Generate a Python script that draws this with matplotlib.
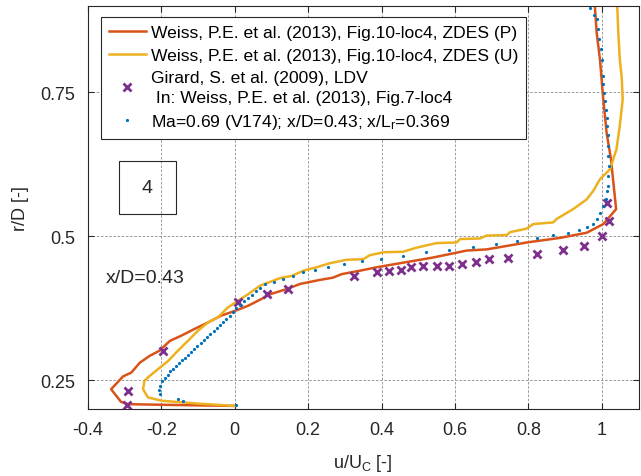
import numpy as np
import matplotlib
matplotlib.use("Agg")
import matplotlib.pyplot as plt
from matplotlib.patches import Rectangle

plt.rcParams['font.family'] = ['Liberation Sans', 'DejaVu Sans']
plt.rcParams['mathtext.fontset'] = 'custom'
plt.rcParams['mathtext.rm'] = 'Liberation Sans'
plt.rcParams['mathtext.it'] = 'Liberation Sans:italic'

# ZDES (P) - Weiss et al. 2013, Fig.10 loc4
zdes_p_u = [0.0, -0.10, -0.20, -0.29, -0.31, -0.337, -0.305, -0.282, -0.259, -0.232, -0.205,
            -0.177, -0.146, -0.109, -0.073, -0.037, 0.0, 0.036, 0.073, 0.096, 0.141, 0.178,
            0.232, 0.268, 0.291, 0.341, 0.387, 0.432, 0.505, 0.541, 0.632, 0.686, 0.741,
            0.795, 0.886, 0.959, 1.004, 1.039, 1.025, 1.013, 1.004, 0.995, 0.986, 0.981]
zdes_p_r = [0.205, 0.206, 0.207, 0.208, 0.212, 0.234, 0.256, 0.263, 0.280, 0.292, 0.301,
            0.318, 0.327, 0.339, 0.350, 0.362, 0.370, 0.379, 0.391, 0.399, 0.408, 0.417,
            0.424, 0.428, 0.434, 0.440, 0.446, 0.451, 0.459, 0.463, 0.475, 0.477, 0.483,
            0.489, 0.497, 0.506, 0.521, 0.547, 0.634, 0.680, 0.738, 0.807, 0.854, 0.900]

# ZDES (U)
zdes_u_u = [0.0, -0.10, -0.20, -0.237, -0.250, -0.246, -0.232, -0.209, -0.182, -0.155, -0.128,
            -0.100, -0.073, -0.046, -0.019, 0.009, 0.036, 0.069, 0.123, 0.155, 0.187, 0.223,
            0.259, 0.305, 0.350, 0.368, 0.405, 0.459, 0.495, 0.550, 0.604, 0.614, 0.668,
            0.686, 0.741, 0.750, 0.795, 0.813, 0.868, 0.877, 0.922, 0.959, 0.977, 0.995,
            1.022, 1.040, 1.049, 1.057, 1.054, 1.049, 1.045, 1.042]
zdes_u_r = [0.205, 0.209, 0.214, 0.220, 0.234, 0.249, 0.257, 0.269, 0.283, 0.301, 0.318,
            0.336, 0.350, 0.359, 0.376, 0.388, 0.399, 0.414, 0.427, 0.431, 0.440, 0.446,
            0.453, 0.459, 0.460, 0.467, 0.472, 0.473, 0.480, 0.488, 0.489, 0.495, 0.496,
            0.501, 0.502, 0.507, 0.513, 0.521, 0.524, 0.530, 0.547, 0.564, 0.579, 0.599,
            0.616, 0.651, 0.692, 0.738, 0.778, 0.807, 0.854, 0.900]

# Girard et al. 2009, LDV
ldv_u = [-0.293, -0.291, -0.195, 0.009, 0.089, 0.146, 0.325, 0.388, 0.421, 0.452, 0.479,
         0.512, 0.550, 0.585, 0.618, 0.656, 0.693, 0.744, 0.824, 0.895, 0.951, 1.001,
         1.020, 1.013]
ldv_r = [0.207, 0.231, 0.300, 0.385, 0.399, 0.409, 0.431, 0.437, 0.439, 0.441, 0.447,
         0.448, 0.448, 0.449, 0.451, 0.455, 0.460, 0.462, 0.469, 0.476, 0.483, 0.501,
         0.527, 0.557]

# Ma=0.69 (V174)
v174_u = [0.002, -0.140, -0.156, -0.205, -0.206, -0.203, -0.198, -0.190, -0.183, -0.176,
          -0.168, -0.160, -0.152, -0.144, -0.136, -0.127, -0.119, -0.110, -0.102, -0.093,
          -0.085, -0.076, -0.067, -0.058, -0.049, -0.040, -0.031, -0.023, -0.014, -0.005,
          0.004, 0.014, 0.024, 0.035, 0.046, 0.057, 0.069, 0.082, 0.107, 0.132, 0.158,
          0.187, 0.219, 0.255, 0.298, 0.346, 0.398, 0.458, 0.521, 0.584, 0.650, 0.712,
          0.770, 0.824, 0.868, 0.907, 0.938, 0.961, 0.975, 0.986, 0.995, 1.004, 1.011,
          1.015, 1.017, 1.018, 1.019, 1.018, 1.017, 1.016, 1.015, 1.013, 1.011, 1.009,
          1.006, 1.004, 1.002, 1.000, 0.997, 0.993, 0.990, 0.986, 0.979, 0.969]
v174_r = [0.207, 0.213, 0.217, 0.226, 0.233, 0.240, 0.248, 0.253, 0.259, 0.265,
          0.270, 0.275, 0.280, 0.285, 0.289, 0.294, 0.299, 0.304, 0.309, 0.314,
          0.319, 0.325, 0.330, 0.335, 0.340, 0.346, 0.351, 0.356, 0.362, 0.368,
          0.375, 0.381, 0.387, 0.392, 0.398, 0.404, 0.410, 0.417, 0.421, 0.425, 0.431,
          0.437, 0.442, 0.446, 0.451, 0.456, 0.461, 0.466, 0.472, 0.476, 0.481, 0.487,
          0.491, 0.496, 0.502, 0.506, 0.511, 0.516, 0.521, 0.530, 0.540, 0.552, 0.564,
          0.579, 0.587, 0.605, 0.622, 0.640, 0.657, 0.675, 0.692, 0.706, 0.720, 0.735,
          0.749, 0.764, 0.778, 0.807, 0.825, 0.842, 0.860, 0.877, 0.885, 0.897]

xticks = [-0.4, -0.2, 0, 0.2, 0.4, 0.6, 0.8, 1]
xticklabels = ['-0.4', '-0.2', '0', '0.2', '0.4', '0.6', '0.8', '1']
yticks = [0.25, 0.5, 0.75]
yticklabels = ['0.25', '0.5', '0.75']

fig = plt.figure(figsize=(6.41, 4.77), dpi=100)
ax = fig.add_axes([0.1373, 0.1409, 0.8588, 0.8444])

ax.plot(zdes_p_u, zdes_p_r, color='#D95319', lw=1.8,
        label='Weiss, P.E. et al. (2013), Fig.10-loc4, ZDES (P)')
ax.plot(zdes_u_u, zdes_u_r, color='#EDB120', lw=1.8,
        label='Weiss, P.E. et al. (2013), Fig.10-loc4, ZDES (U)')
ax.plot(ldv_u, ldv_r, ls='none', marker='x', color='#7E2F8E', ms=6, mew=2,
        label='Girard, S. et al. (2009), LDV\n In: Weiss, P.E. et al. (2013), Fig.7-loc4')
ax.plot(v174_u, v174_r, ls='none', marker='o', color='#0072BD', ms=2.3, mew=0,
        label='Ma=0.69 (V174); x/D=0.43; x/L$_\\mathrm{r}$=0.369')

ax.set_xlim(-0.4, 1.1)
ax.set_ylim(0.2, 0.9)
ax.set_xticks(xticks)
ax.set_xticklabels(xticklabels)
ax.set_yticks(yticks)
ax.set_yticklabels(yticklabels)
ax.tick_params(direction='in', top=True, right=True, length=4, labelsize=13,
               color='#262626', labelcolor='#262626', pad=9)
ax.grid(True, ls=(0, (3, 2)), color='#8a8a8a', lw=0.6)
for s in ax.spines.values():
    s.set_color('#262626')
    s.set_linewidth(0.8)

ax.set_xlabel('u/U$_\\mathrm{C}$ [-]', fontsize=13, color='#262626', labelpad=10)
ax.set_ylabel('r/D [-]', fontsize=13, color='#262626', labelpad=8)

leg = ax.legend(loc='upper left', bbox_to_anchor=(0.0236, 0.9727), borderaxespad=0,
                fontsize=12.6, fancybox=False, framealpha=1, edgecolor='#262626',
                handlelength=2.1, handletextpad=0.3, labelspacing=0.43,
                borderpad=0.45)
leg.get_frame().set_linewidth(0.8)
leg.get_texts()[2].set_linespacing(1.35)

ax.add_patch(Rectangle((0.0563, 0.4836), 0.1035, 0.1316, transform=ax.transAxes,
                       fill=False, edgecolor='#262626', lw=0.8, zorder=5))
ax.text(0.108, 0.549, '4', transform=ax.transAxes, ha='center', va='center',
        fontsize=14, color='#262626')
ax.text(0.0327, 0.327, 'x/D=0.43', transform=ax.transAxes, ha='left', va='center',
        fontsize=14, color='#262626')

fig.savefig('out.png', dpi=100)
